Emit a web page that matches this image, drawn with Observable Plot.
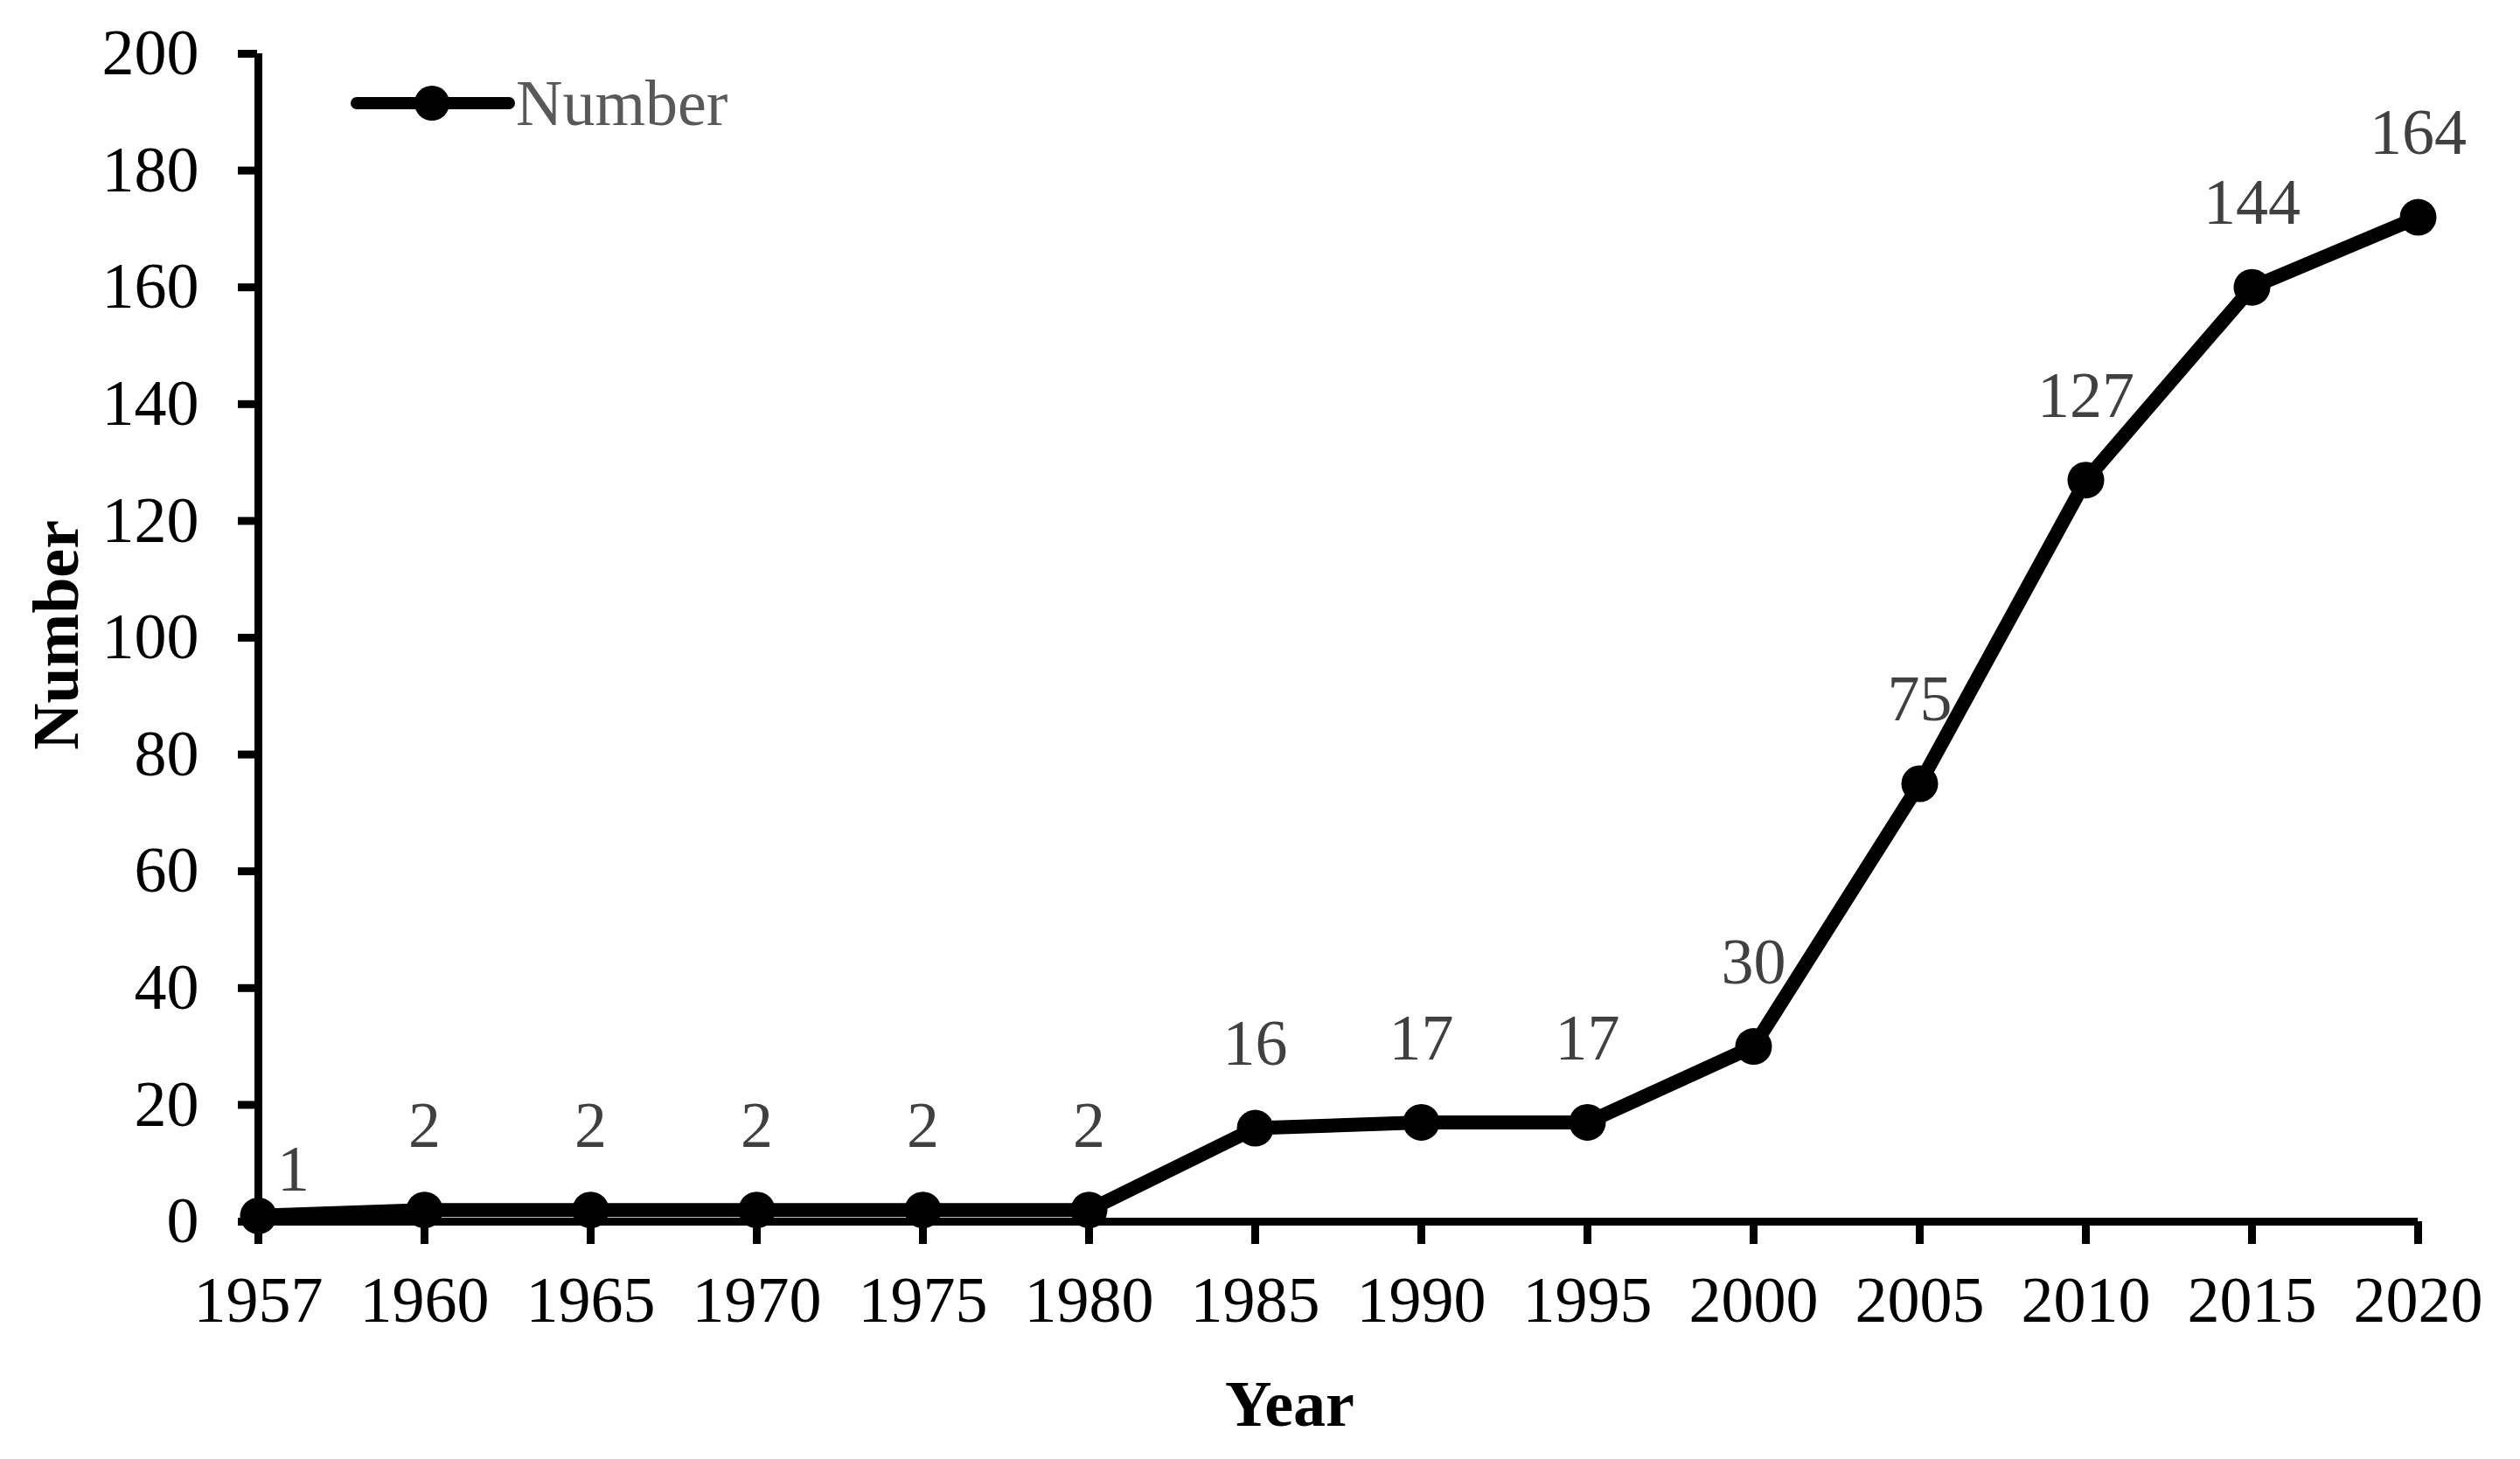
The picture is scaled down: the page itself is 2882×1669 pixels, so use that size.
<!DOCTYPE html>
<html>
<head>
<meta charset="utf-8">
<script src="https://cdn.jsdelivr.net/npm/d3@7"></script>
<script src="https://cdn.jsdelivr.net/npm/@observablehq/plot@0.6"></script>
<style>
  html, body { margin: 0; padding: 0; background: #fff; }
  #wrap { position: relative; width: 2882px; height: 1669px; }
  #legend { position: absolute; left: 400px; top: 81px; height: 74px; display: flex; align-items: center;
            font-family: "Liberation Serif", "Times New Roman", serif; font-size: 74px; line-height: 1; color: #595959; }
  #legend svg { display: block; }
</style>
</head>
<body>
<div id="wrap">
  <div id="chart"></div>
  <div id="legend">
    <svg width="190" height="50"><line x1="8" y1="25" x2="182" y2="25" stroke="#000" stroke-width="14" stroke-linecap="round"></line><circle cx="94" cy="25" r="20" fill="#000"></circle></svg>
    <span>Number</span>
  </div>
</div>
<script>
// Categories (x axis)
const years = ["1957","1960","1965","1970","1975","1980","1985","1990","1995","2000","2005","2010","2015","2020"];
// Plotted values (as drawn)
const values = [1, 2, 2, 2, 2, 2, 16, 17, 17, 30, 75, 127, 160, 172];
// Data labels (as printed)
const labels = ["1","2","2","2","2","2","16","17","17","30","75","127","144","164"];
// Y ticks
const yTicks = [0, 20, 40, 60, 80, 100, 120, 140, 160, 180, 200];

const data = years.map((y, i) => ({year: y, value: values[i], label: labels[i]}));

const FONT = '"Liberation Serif", "Times New Roman", serif';

const chart = Plot.plot({
  width: 2882,
  height: 1669,
  marginLeft: 294,
  marginRight: 117,
  marginTop: 61,
  marginBottom: 272,
  style: {fontFamily: FONT, fontSize: "74px", color: "#000", background: "#fff"},
  x: {type: "point", domain: years, padding: 0},
  y: {domain: [0, 200]},
  marks: [
    Plot.axisY({ticks: yTicks, tickSize: 22, tickPadding: 45, strokeWidth: 9, fontSize: 74, label: null}),
    Plot.axisX({tickSize: 26, tickPadding: 36, strokeWidth: 9, fontSize: 74, label: null}),
    Plot.ruleY([0], {strokeWidth: 9, stroke: "#000"}),
    Plot.ruleX([years[0]], {y1: 0, y2: 200, strokeWidth: 9, stroke: "#000"}),
    Plot.line(data, {x: "year", y: "value", stroke: "#000", strokeWidth: 16}),
    Plot.dot(data, {x: "year", y: "value", r: 21, fill: "#000", stroke: null}),
    Plot.text(data.slice(1), {x: "year", y: "value", text: "label", dy: -96, fill: "#404040", fontSize: 74, lineAnchor: "middle"}),
    Plot.text(data.slice(0, 1), {x: "year", y: "value", text: "label", dx: 40, dy: -53, fill: "#404040", fontSize: 74, lineAnchor: "middle"}),
    Plot.text(["Number"], {frameAnchor: "left", textAnchor: "middle", dx: -229, dy: -3, rotate: -90, fontWeight: "bold", fontSize: 74, lineAnchor: "middle", fill: "#000"}),
    Plot.text(["Year"], {frameAnchor: "bottom", textAnchor: "middle", dx: -55, dy: 210, fontWeight: "bold", fontSize: 74, lineAnchor: "middle", fill: "#000"})
  ]
});
document.getElementById("chart").appendChild(chart);
</script>
</body>
</html>
